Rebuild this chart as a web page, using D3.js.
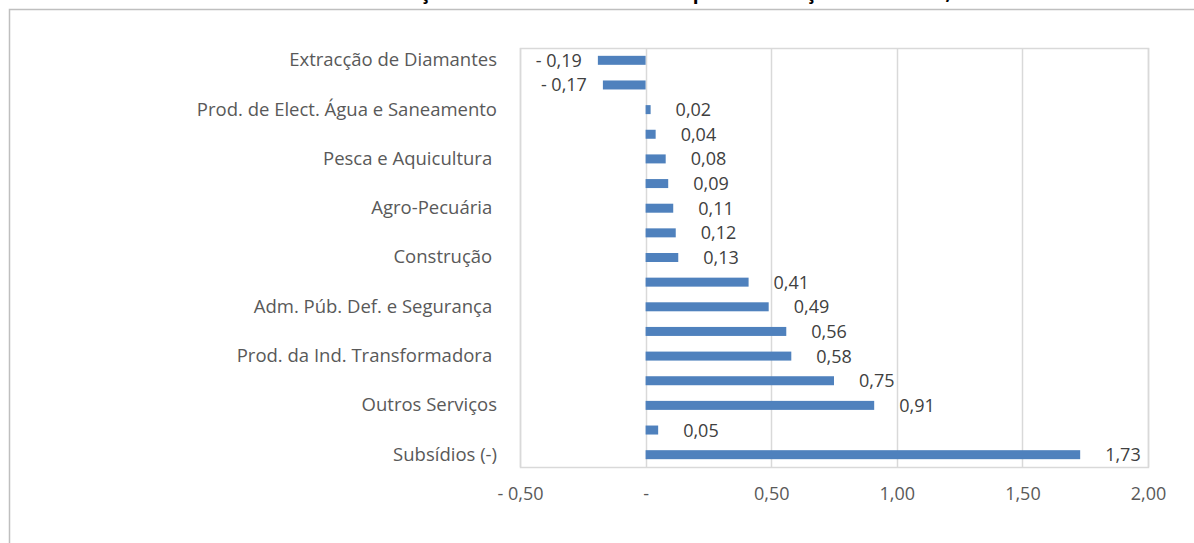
<!DOCTYPE html>
<html>
<head>
<meta charset="utf-8">
<script src="https://cdn.jsdelivr.net/npm/d3@7"></script>
<style>
  html, body { margin: 0; padding: 0; background: #fff; }
  svg { display: block; }
  text { white-space: pre; }
</style>
</head>
<body>
<svg id="chart" width="1194" height="543"></svg>
<script>
// ---- data ----
const titleText = "Contribuição dos ramos de actividade para a variação do PIB real, 2017";
const categories = [
  "Extracção de Diamantes",
  "Extracção e Refinação de Petróleo",
  "Prod. de Elect. Água e Saneamento",
  "Correios e Telecomunicações",
  "Pesca e Aquicultura ",
  "Serviços Imobiliários",
  "Agro-Pecuária ",
  "Transportes e Armazenagem",
  "Construção ",
  "Intermediação Financeira",
  "Adm. Púb. Def. e Segurança ",
  "Comércio",
  "Prod. da Ind. Transformadora ",
  "Impostos sobre Produtos",
  "Outros Serviços",
  "Direitos de Importação",
  "Subsídios (-)"
];
const values = [-0.19, -0.17, 0.02, 0.04, 0.08, 0.09, 0.11, 0.12, 0.13, 0.41, 0.49, 0.56, 0.58, 0.75, 0.91, 0.05, 1.73];
const xTicks = [-0.5, 0, 0.5, 1.0, 1.5, 2.0];

// ---- helpers ----
const fmtNum = v => {
  if (Math.abs(v) < 1e-9) return "-";
  const s = Math.abs(v).toFixed(2).replace(".", ",");
  return v < 0 ? "- " + s : s;
};

const FONT = "'Open Sans', Lato, sans-serif";
const FS = 18.5;
const svg = d3.select("#chart");

// outer chart frame
svg.append("rect")
  .attr("x", 9.5).attr("y", 9.5)
  .attr("width", 1300).attr("height", 700)
  .attr("fill", "none").attr("stroke", "#bfbfbf").attr("stroke-width", 1.5);

// title (clipped at the top as in the reference)
svg.append("text")
  .attr("x", 665).attr("y", -1)
  .attr("text-anchor", "middle")
  .attr("font-family", FONT).attr("font-weight", "bold")
  .attr("font-size", 19).attr("fill", "#000")
  .text(titleText);

const plot = { left: 520, right: 1148, top: 48, bottom: 467 };

const x = d3.scaleLinear().domain([-0.5, 2.0]).range([plot.left, plot.right]);
const y = d3.scaleBand().domain(categories)
  .range([plot.top, plot.bottom])
  .paddingInner(0.635).paddingOuter(0.3175);

// gridlines
svg.append("g").selectAll("line").data(xTicks).join("line")
  .attr("x1", d => Math.round(x(d)) + 0.5).attr("x2", d => Math.round(x(d)) + 0.5)
  .attr("y1", plot.top).attr("y2", plot.bottom)
  .attr("stroke", "#d9d9d9").attr("stroke-width", 1.5);

// plot border
svg.append("rect")
  .attr("x", plot.left + 0.5).attr("y", plot.top + 0.5)
  .attr("width", plot.right - plot.left).attr("height", plot.bottom - plot.top)
  .attr("fill", "none").attr("stroke", "#d9d9d9").attr("stroke-width", 1.5);

// bars
svg.append("g").selectAll("rect").data(values).join("rect")
  .attr("x", d => x(Math.min(0, d)))
  .attr("width", d => Math.abs(x(d) - x(0)))
  .attr("y", (d, i) => y(categories[i]))
  .attr("height", y.bandwidth())
  .attr("fill", "#4f81bd");

// value labels
svg.append("g").selectAll("text").data(values).join("text")
  .attr("x", d => d < 0 ? x(d) - 16 : x(d) + 25)
  .attr("y", (d, i) => y(categories[i]) + y.bandwidth() / 2)
  .attr("dy", "0.36em")
  .attr("text-anchor", d => d < 0 ? "end" : "start")
  .attr("font-family", FONT).attr("font-size", 18).attr("fill", "#404040")
  .text(d => fmtNum(d));

// x axis
const xAxis = svg.append("g")
  .attr("transform", `translate(0,${plot.bottom})`)
  .call(d3.axisBottom(x).tickValues(xTicks).tickSize(0).tickPadding(20).tickFormat(fmtNum));
xAxis.select(".domain").remove();
xAxis.selectAll("text")
  .attr("font-family", FONT).attr("font-size", 18).attr("fill", "#595959");

// y axis
const yAxis = svg.append("g")
  .attr("transform", `translate(${plot.left},0)`)
  .call(d3.axisLeft(y).tickSize(0).tickPadding(23)
    .tickFormat((d, i) => i % 2 === 0 ? d : ""));
yAxis.select(".domain").remove();
yAxis.selectAll("text")
  .attr("font-family", FONT).attr("font-size", FS).attr("fill", "#595959");
</script>
</body>
</html>
